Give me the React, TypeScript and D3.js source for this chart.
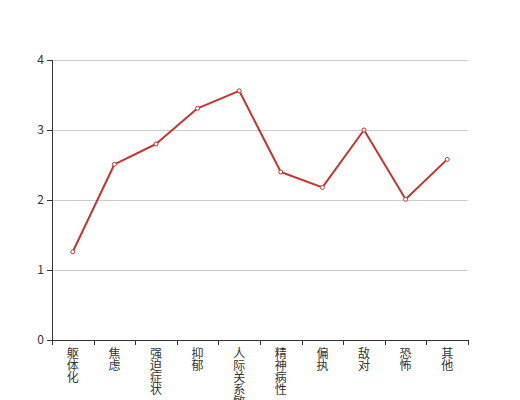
import React, { useEffect, useRef } from "react";
import * as d3 from "d3";

const categories = ["躯体化", "焦虑", "强迫症状", "抑郁", "人际关系敏感", "精神病性", "偏执", "敌对", "恐怖", "其他"];
const values = [1.26, 2.51, 2.8, 3.31, 3.56, 2.4, 2.18, 3.0, 2.01, 2.58];
const yTicks = [0, 1, 2, 3, 4];

const W = 520, H = 400;
const margin = { left: 52, right: 52, top: 60, bottom: 60 };
const FONT = "'Noto Sans CJK SC', 'Noto Sans', sans-serif";
const RED = "#c23531";

export default function App() {
  const ref = useRef<SVGSVGElement>(null);
  useEffect(() => {
    const svg = d3.select(ref.current);
    svg.selectAll("*").remove();
    const x = d3.scaleBand<string>().domain(categories).range([margin.left, W - margin.right]);
    const y = d3.scaleLinear().domain([0, 4]).range([H - margin.bottom, margin.top]);

    // grid
    svg.append("g").selectAll("line").data(yTicks.filter(t => t > 0)).join("line")
      .attr("x1", margin.left).attr("x2", W - margin.right)
      .attr("y1", d => y(d) + 0.5).attr("y2", d => y(d) + 0.5)
      .attr("stroke", "#ccc").attr("stroke-width", 1);

    // y axis
    const ya = svg.append("g");
    ya.append("line").attr("x1", margin.left + 0.5).attr("x2", margin.left + 0.5)
      .attr("y1", margin.top).attr("y2", H - margin.bottom).attr("stroke", "#333");
    ya.selectAll("line.t").data(yTicks).join("line").attr("class", "t")
      .attr("x1", margin.left - 5).attr("x2", margin.left)
      .attr("y1", d => y(d) + 0.5).attr("y2", d => y(d) + 0.5).attr("stroke", "#333");
    ya.selectAll("text").data(yTicks).join("text")
      .attr("x", margin.left - 8).attr("y", d => y(d)).attr("dy", "0.35em")
      .attr("text-anchor", "end").attr("font-size", 12).attr("font-family", FONT)
      .attr("fill", "#333").text(d => String(d));

    // x axis
    const xa = svg.append("g");
    const y0 = H - margin.bottom;
    xa.append("line").attr("x1", margin.left).attr("x2", W - margin.right)
      .attr("y1", y0 + 0.5).attr("y2", y0 + 0.5).attr("stroke", "#333");
    const bounds = categories.map(c => x(c)!).concat([W - margin.right]);
    xa.selectAll("line.t").data(bounds).join("line").attr("class", "t")
      .attr("x1", d => Math.round(d) + 0.5).attr("x2", d => Math.round(d) + 0.5)
      .attr("y1", y0).attr("y2", y0 + 5).attr("stroke", "#333");
    const lbl = xa.selectAll("text").data(categories).join("text")
      .attr("x", d => x(d)! + x.bandwidth() / 2).attr("y", y0 + 8)
      .attr("text-anchor", "middle").attr("font-size", 12).attr("font-family", FONT)
      .attr("fill", "#333");
    lbl.each(function (d) {
      const t = d3.select(this);
      Array.from(d).forEach((ch, i) => {
        t.append("tspan").attr("x", x(d)! + x.bandwidth() / 2)
          .attr("y", y0 + 8 + i * 12).attr("dy", "0.85em").text(ch);
      });
    });

    // line
    const line = d3.line<number>()
      .x((_, i) => x(categories[i])! + x.bandwidth() / 2)
      .y(d => y(d));
    svg.append("path").datum(values).attr("d", line).attr("fill", "none")
      .attr("stroke", RED).attr("stroke-width", 2).attr("stroke-linejoin", "bevel");
    svg.append("g").selectAll("circle").data(values).join("circle")
      .attr("cx", (_, i) => x(categories[i])! + x.bandwidth() / 2)
      .attr("cy", d => y(d)).attr("r", 2)
      .attr("fill", "#fff").attr("stroke", RED).attr("stroke-width", 1);
  }, []);
  return (
    <svg ref={ref} width={W} height={H}
      style={{ position: "absolute", left: 0, top: 0, background: "#fff" }} />
  );
}
